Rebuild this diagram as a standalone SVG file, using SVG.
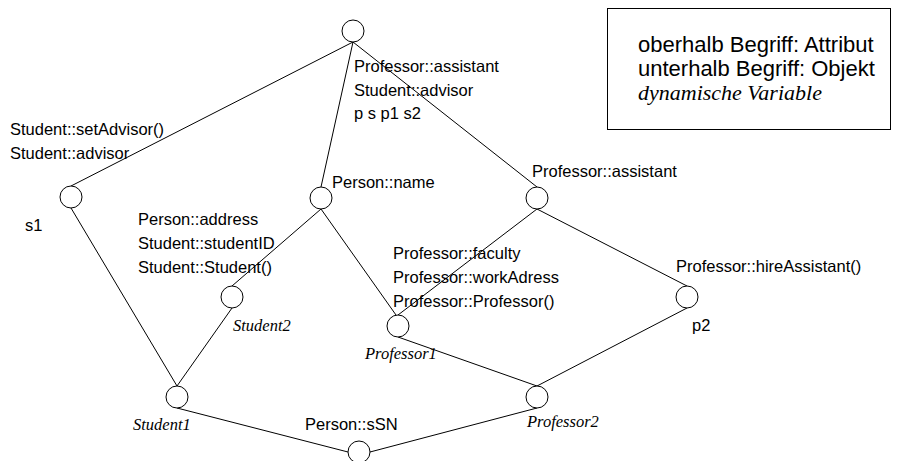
<svg xmlns="http://www.w3.org/2000/svg" width="905" height="461" viewBox="0 0 905 461">
<style>
.n{fill:#fff;stroke:#000;stroke-width:1}
.c line{stroke:#000;stroke-width:1}
.t{font-family:"Liberation Sans",Arial,sans-serif;font-size:16.5px;fill:#000}
.i{font-family:"Liberation Serif","Times New Roman",serif;font-style:italic;font-size:16.5px;fill:#000}
.b{font-family:"Liberation Sans",Arial,sans-serif;font-size:22px;fill:#000}
.bi{font-family:"Liberation Serif","Times New Roman",serif;font-style:italic;font-size:22px;fill:#000}
</style>
<rect width="905" height="461" fill="#fff"/>
<g id="connectors" class="c">
<line x1="353" y1="42" x2="71" y2="186"/>
<line x1="353" y1="42" x2="321" y2="187"/>
<line x1="353" y1="42" x2="537" y2="187"/>
<line x1="71" y1="208" x2="177" y2="386"/>
<line x1="321" y1="209" x2="232" y2="286"/>
<line x1="321" y1="209" x2="396" y2="315"/>
<line x1="537" y1="209" x2="398" y2="315"/>
<line x1="537" y1="209" x2="687" y2="286"/>
<line x1="232" y1="308" x2="177" y2="386"/>
<line x1="398" y1="337" x2="537" y2="386"/>
<line x1="687" y1="308" x2="537" y2="386"/>
<line x1="177" y1="408" x2="348" y2="452"/>
<line x1="370" y1="452" x2="537" y2="408"/>
</g>
<g id="legend">
<rect x="607.5" y="8.5" width="283" height="121" fill="#fff" stroke="#000" stroke-width="1"/>
<text class="b" x="638" y="52">oberhalb Begriff: Attribut</text>
<text class="b" x="638" y="76">unterhalb Begriff: Objekt</text>
<text class="bi" x="638" y="100">dynamische Variable</text>
</g>
<g id="top">
<circle class="n" cx="353" cy="31" r="11"/>
<text class="t" x="354" y="72">Professor::assistant</text>
<text class="t" x="354" y="95.5">Student::advisor</text>
<text class="t" x="354" y="119">p s p1 s2</text>
</g>
<g id="s1">
<circle class="n" cx="71" cy="197" r="11"/>
<text class="t" x="10" y="135">Student::setAdvisor()</text>
<text class="t" x="10" y="158.5">Student::advisor</text>
<text class="t" x="25" y="231">s1</text>
</g>
<g id="personName">
<circle class="n" cx="321" cy="198" r="11"/>
<text class="t" x="332" y="188">Person::name</text>
</g>
<g id="profAssistant">
<circle class="n" cx="537" cy="198" r="11"/>
<text class="t" x="532" y="177">Professor::assistant</text>
</g>
<g id="student2">
<circle class="n" cx="232" cy="297" r="11"/>
<text class="t" x="138" y="225">Person::address</text>
<text class="t" x="138" y="249">Student::studentID</text>
<text class="t" x="138" y="273">Student::Student()</text>
<text class="i" x="233" y="331">Student2</text>
</g>
<g id="professor1">
<circle class="n" cx="398" cy="326" r="11"/>
<text class="t" x="393" y="259">Professor::faculty</text>
<text class="t" x="393" y="283">Professor::workAdress</text>
<text class="t" x="393" y="307">Professor::Professor()</text>
<text class="i" x="365" y="359">Professor1</text>
</g>
<g id="p2">
<circle class="n" cx="687" cy="297" r="11"/>
<text class="t" x="676" y="272">Professor::hireAssistant()</text>
<text class="t" x="692" y="331">p2</text>
</g>
<g id="student1">
<circle class="n" cx="177" cy="397" r="11"/>
<text class="i" x="133" y="430">Student1</text>
</g>
<g id="professor2">
<circle class="n" cx="537" cy="397" r="11"/>
<text class="i" x="527" y="427">Professor2</text>
</g>
<g id="bottom">
<circle class="n" cx="359" cy="452" r="11"/>
<text class="t" x="305" y="430">Person::sSN</text>
</g>
</svg>
